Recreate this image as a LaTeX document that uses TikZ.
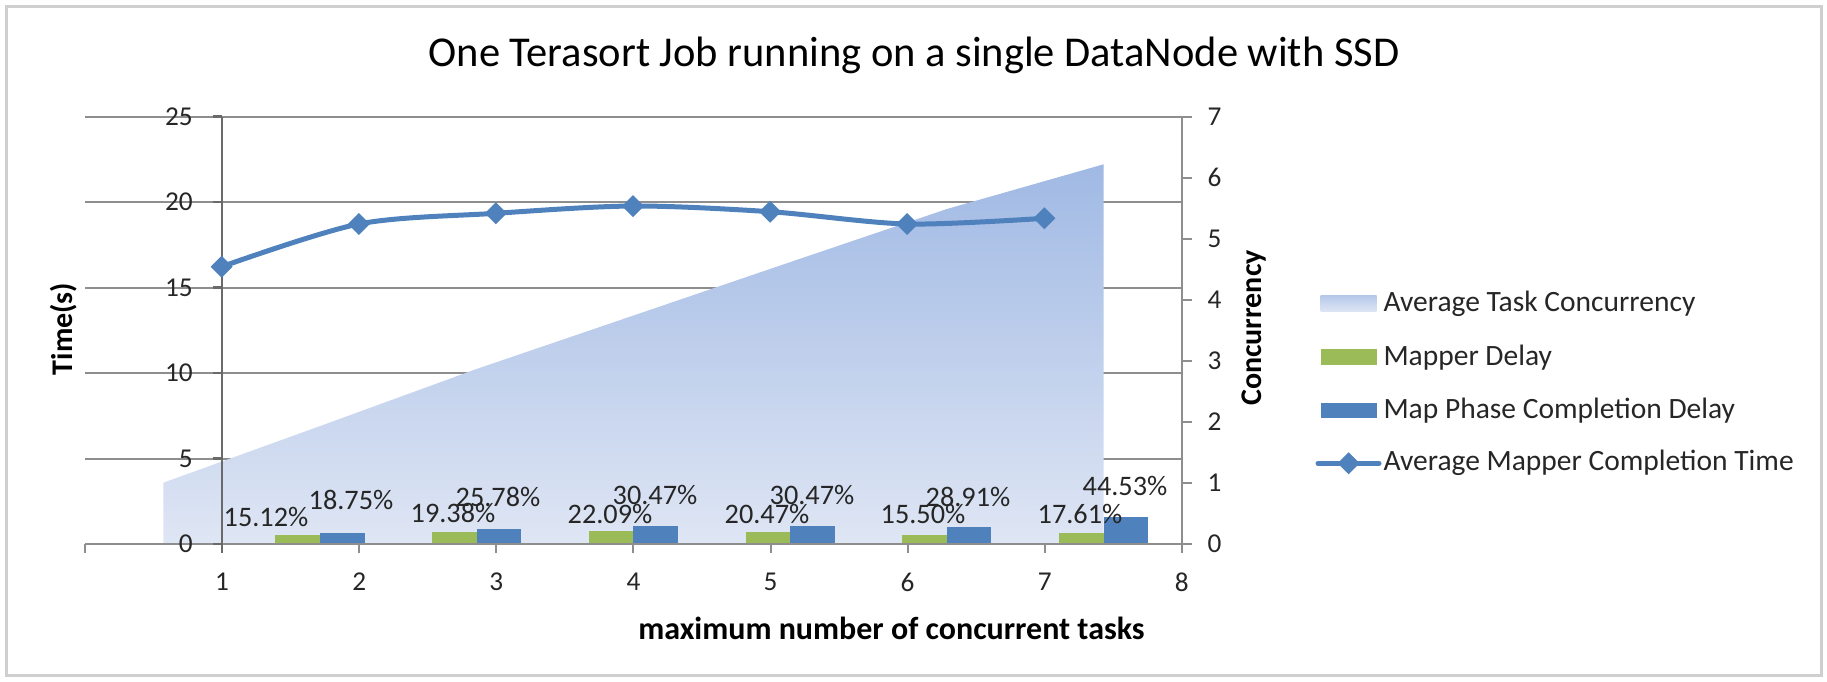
\documentclass[tikz,border=0pt]{standalone}
\usepackage{fontspec}
\setmainfont{Carlito}
\definecolor{mblue}{HTML}{4F81BD}
\definecolor{mgreen}{HTML}{9BBB59}
\definecolor{areatop}{HTML}{A0B9E4}
\definecolor{areabot}{HTML}{DFE6F4}
\definecolor{gridcol}{HTML}{8E8E8E}
\definecolor{axiscol}{HTML}{6A6A6A}
\definecolor{framecol}{HTML}{CFCFCF}
\definecolor{txtcol}{HTML}{262626}
\begin{document}
\begin{tikzpicture}[x=0.4pt,y=-0.4pt,
  gridline/.style={draw=gridcol, line width=0.8pt},
  axisline/.style={draw=axiscol, line width=0.9pt},
  raxisline/.style={draw=gridcol, line width=0.8pt},
  ticklab/.style={inner sep=0pt, text=txtcol, font=\fontsize{10.9}{12}\selectfont},
  datalab/.style={inner sep=0pt, text=txtcol, font=\fontsize{11.3}{13}\selectfont},
  leglab/.style={inner sep=0pt, anchor=base west, text=txtcol, font=\fontsize{11.8}{14}\selectfont},
  axtitle/.style={inner sep=0pt, text=black, font=\bfseries\fontsize{12}{14}\selectfont},
  serline/.style={draw=mblue, line width=2pt, line cap=round, line join=round},
]
\useasboundingbox (0,0) rectangle (1827,681);
% outer frame
\draw[framecol, line width=1.2pt] (6,6) rectangle (1821,675);

% title
\node[inner sep=0pt, anchor=base, text=black, font=\fontsize{17}{20}\selectfont] (title) at (914,66.5) {One Terasort Job running on a single DataNode with SSD};

% gridlines
\foreach \v in {5,10,15,20,25}{
  \draw[gridline] (85,{544-17.1*\v}) -- (1182,{544-17.1*\v});
}

% area series: Average Task Concurrency
\shade[top color=areatop, bottom color=areabot]
  (163.3,544) -- (163.3,482.7) -- (320,426.1) -- (476.8,368.9) -- (633.5,315.5)
  -- (790.2,262.1) -- (946.9,209) -- (1103.6,164.3) -- (1103.6,544) -- cycle;

% bars
\foreach \i/\g/\b in {1/15.12/18.75, 2/19.38/25.78, 3/22.09/30.47, 4/20.47/30.47, 5/15.50/28.91, 6/17.61/44.53}{
  \pgfmathsetmacro{\c}{85+(\i+0.5)*156.7}
  \pgfmathsetmacro{\gy}{544-17.1*3.5*\g/100}
  \pgfmathsetmacro{\by}{544-17.1*3.5*\b/100}
  \fill[mgreen] ({\c-44.6},544) rectangle (\c,\gy);
  \fill[mblue] (\c,544) rectangle ({\c+44.6},\by);
}

% axes
\draw[gridline] (85,544) -- (1182,544);
\foreach \k in {0,...,8}{
  \draw[gridline] ({85+137.1*\k},544) -- ({85+137.1*\k},553);
}
\draw[axisline] (221.7,116.5) -- (221.7,553);
\foreach \v in {0,5,...,25}{
  \draw[axisline] (212.7,{544-17.1*\v}) -- (221.7,{544-17.1*\v});
}
\draw[raxisline] (1182,116.5) -- (1182,553);
\foreach \v in {0,...,7}{
  \draw[raxisline] (1182,{544-61.07*\v}) -- (1191.7,{544-61.07*\v});
}

% tick labels
\foreach \v in {0,5,...,25}{
  \node[ticklab, anchor=east] (yl\v) at (193.3,{544-17.1*\v}) {\v};
}
\foreach \v in {0,...,7}{
  \node[ticklab, anchor=west] (yr\v) at (1207,{544-61.07*\v}) {\v};
}
\foreach \k in {1,...,8}{
  \node[ticklab] (xl\k) at ({85+137.1*\k},582) {\k};
}

% axis titles
\node[axtitle, rotate=90] (ytitle) at (64,329) {Time(s)};
\node[axtitle, rotate=90] (y2title) at (1254,328) {Concurrency};
\node[axtitle, anchor=base, font=\bfseries\fontsize{12.8}{15}\selectfont] (xtitle) at (891.5,639) {maximum number of concurrent tasks};

% line series: Average Mapper Completion Time
\draw[serline] plot[smooth, tension=0.5] coordinates {(221.7,266.7) (358.8,224) (495.9,213.3) (633,206) (770.1,211.7) (907.2,224) (1044.3,218.3)};
\foreach \x/\y in {221.7/266.7, 358.8/224, 495.9/213.3, 633/206, 770.1/211.7, 907.2/224, 1044.3/218.3}{
  \fill[mblue] (\x,\y) ++(-11,0) -- ++(11,-11) -- ++(11,11) -- ++(-11,11) -- cycle;
}

% data labels
\node[datalab] (g1) at (266,517) {15.12\%};
\node[datalab] (b1) at (351,500) {18.75\%};
\node[datalab] (g2) at (453,513) {19.38\%};
\node[datalab] (b2) at (498,497) {25.78\%};
\node[datalab] (g3) at (610,514) {22.09\%};
\node[datalab] (b3) at (655,495) {30.47\%};
\node[datalab] (g4) at (767,514) {20.47\%};
\node[datalab] (b4) at (812,495) {30.47\%};
\node[datalab] (g5) at (923,514) {15.50\%};
\node[datalab] (b5) at (968,497) {28.91\%};
\node[datalab] (g6) at (1080,514) {17.61\%};
\node[datalab] (b6) at (1125,486) {44.53\%};

% legend
\shade[top color=areatop!80!white, bottom color=areabot] (1320.6,295) rectangle (1376.7,311.7);
\node[leglab] (leg1) at (1383,311.7) {Average Task Concurrency};
\fill[mgreen] (1320.6,349) rectangle (1376.7,365);
\node[leglab] (leg2) at (1383,365) {Mapper Delay};
\fill[mblue] (1320.6,402.7) rectangle (1376.7,418.3);
\node[leglab] (leg3) at (1383,418.3) {Map Phase Completion Delay};
\draw[serline] (1318,463.3) -- (1379,463.3);
\fill[mblue] (1348.6,463.3) ++(-11,0) -- ++(11,-11) -- ++(11,11) -- ++(-11,11) -- cycle;
\node[leglab] (leg4) at (1383,470.7) {Average Mapper Completion Time};
\end{tikzpicture}
\end{document}
